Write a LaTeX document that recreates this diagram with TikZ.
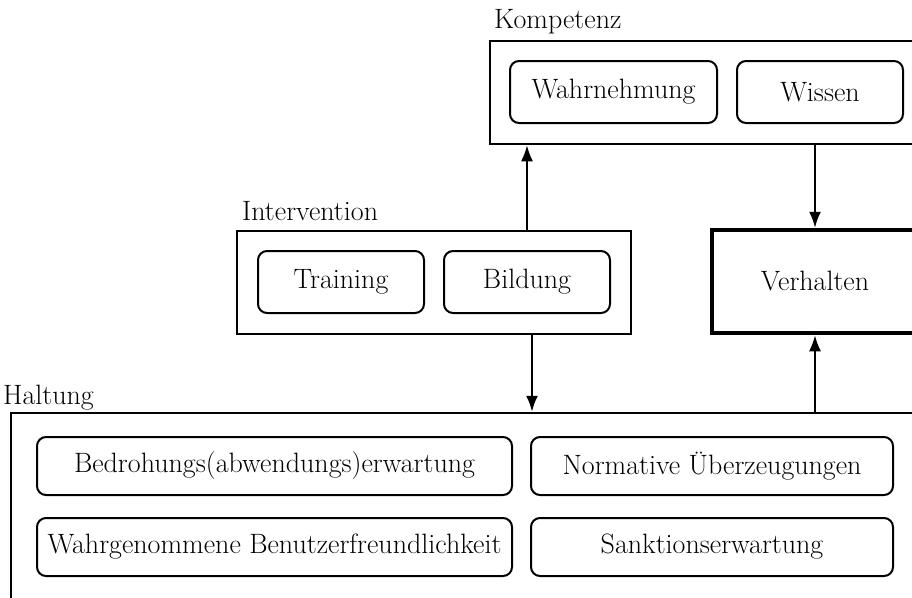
\documentclass[tikz,border=0pt]{standalone}
\usetikzlibrary{arrows.meta,calc}
\begin{document}
\begin{tikzpicture}[x=1pt,y=-1pt,
  every node/.style={font=\fontsize{28}{32}\selectfont},
  group/.style={draw,line width=2.5pt,inner sep=0pt},
  item/.style={draw,line width=2pt,rounded corners=9pt,inner sep=0pt},
  heavy/.style={draw,line width=4.5pt,inner sep=0pt},
  label/.style={anchor=base west,inner sep=0pt},
  link/.style={line width=2pt,-{Latex[length=16pt,width=12pt]}}]
\clip (0,0) rectangle (912,597);
\useasboundingbox (0,0) rectangle (912,597);

% Kompetenz
\node[label] (lkomp) at (494,28) {Kompetenz};
\node[group,minimum width=440pt,minimum height=103pt] (komp) at (710,92.5) {};
\node[item,minimum width=207pt,minimum height=62pt] (wahr) at (613.5,92) {Wahrnehmung};
\node[item,minimum width=166pt,minimum height=62pt] (wiss) at (820,92) {Wissen};

% Intervention
\node[label] (linter) at (242,220) {Intervention};
\node[group,minimum width=394pt,minimum height=103pt] (inter) at (434,282.5) {};
\node[item,minimum width=166pt,minimum height=62pt] (train) at (341,282) {Training};
\node[item,minimum width=166pt,minimum height=62pt] (bild) at (527,282) {Bildung};

% Verhalten
\node[heavy,minimum width=206pt,minimum height=103pt] (verh) at (815,281.5) {Verhalten};

% Haltung
\node[label] (lhalt) at (3,404) {Haltung};
\node[group,minimum width=919pt,minimum height=207pt] (halt) at (470.5,516.5) {};
\node[item,minimum width=475pt,minimum height=58pt] (bedr) at (274.5,466) {Bedrohungs(abwendungs)erwartung};
\node[item,minimum width=362pt,minimum height=58pt] (norm) at (712,466) {Normative Überzeugungen};
\node[item,minimum width=475pt,minimum height=58pt] (benu) at (274.5,547) {Wahrgenommene Benutzerfreundlichkeit};
\node[item,minimum width=362pt,minimum height=58pt] (sank) at (712,547) {Sanktionserwartung};

% Connectors
\draw[link] (inter.north -| bild.north) -- (komp.south -| bild.north);
\draw[link] (komp.south -| verh.north) -- (verh.north);
\coordinate (drop) at ($(inter.south)+(98pt,0)$);
\draw[link] (drop) -- (drop |- halt.north);
\draw[link] (halt.north -| verh.south) -- (verh.south);
\end{tikzpicture}
\end{document}
